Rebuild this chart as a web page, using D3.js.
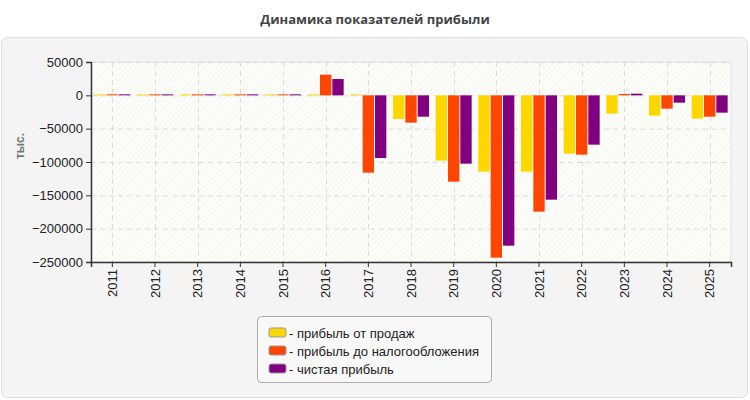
<!DOCTYPE html>
<html>
<head>
<meta charset="utf-8">
<script src="https://cdn.jsdelivr.net/npm/d3@7"></script>
<style>
  body { margin: 0; background: #fff; font-family: "Liberation Sans", Arial, sans-serif; }
</style>
</head>
<body>
<div id="chart"></div>
<script>
// data
const years = ["2011","2012","2013","2014","2015","2016","2017","2018","2019","2020","2021","2022","2023","2024","2025"];
const salesProfit = [1500, 1500, 1500, 1500, 1500, 1500, 1500, -35500, -98000, -114500, -114500, -87500, -27500, -30500, -35000];
const preTaxProfit = [1500, 1500, 1500, 1500, 1500, 31000, -116000, -41000, -129500, -243500, -174500, -89000, 2000, -20000, -32000];
const netProfit = [1500, 1500, 1500, 1500, 1500, 24500, -94000, -32000, -102500, -225500, -156500, -74000, 2500, -11000, -26000];
const seriesNames = ["- прибыль от продаж", "- прибыль до налогообложения", "- чистая прибыль"];
const seriesColors = ["#FFD700", "#FF4500", "#800080"];
const yTicks = [50000, 0, -50000, -100000, -150000, -200000, -250000];

const width = 750, height = 400;
const plot = { left: 91, right: 731, top: 62, bottom: 262 };

const svg = d3.select("#chart").append("svg")
    .attr("width", width)
    .attr("height", height);

// outer panel
svg.append("rect")
   .attr("x", 1.5).attr("y", 37.5)
   .attr("width", 746).attr("height", 360)
   .attr("rx", 6)
   .attr("fill", "#f4f4f4")
   .attr("stroke", "#dcdcdc");

// title
svg.append("text")
   .attr("x", width / 2)
   .attr("y", 24)
   .attr("text-anchor", "middle")
   .attr("font-size", 13)
   .attr("font-family", "'Open Sans', sans-serif")
   .attr("font-weight", "bold")
   .attr("fill", "#444")
   .text("Динамика показателей прибыли");

// hatched plot background
const defs = svg.append("defs");
const pat = defs.append("pattern")
   .attr("id", "hatch")
   .attr("patternUnits", "userSpaceOnUse")
   .attr("width", 4).attr("height", 4)
   .attr("patternTransform", "rotate(45)");
pat.append("rect").attr("width", 4).attr("height", 4).attr("fill", "#fdfdf9");
pat.append("line").attr("x1", 0).attr("y1", 0).attr("x2", 0).attr("y2", 4)
   .attr("stroke", "#ececec").attr("stroke-width", 1);

svg.append("rect")
   .attr("x", plot.left).attr("y", plot.top)
   .attr("width", plot.right - plot.left)
   .attr("height", plot.bottom - plot.top)
   .attr("fill", "url(#hatch)")
   .attr("stroke", "#e2e2e2");

// scales
const x = d3.scaleBand()
    .domain(years)
    .range([plot.left, plot.right]);

const x1 = d3.scaleBand()
    .domain([0, 1, 2])
    .range([0, 36])
    .paddingInner(0.08);

const y = d3.scaleLinear()
    .domain([-250000, 50000])
    .range([plot.bottom, plot.top]);

// grid
svg.append("g").selectAll("line.h")
   .data(yTicks)
   .join("line")
   .attr("x1", plot.left).attr("x2", plot.right)
   .attr("y1", d => y(d) + 0.5).attr("y2", d => y(d) + 0.5)
   .attr("stroke", "#dcdcdc")
   .attr("stroke-dasharray", "5,4");

svg.append("g").selectAll("line.v")
   .data(years)
   .join("line")
   .attr("x1", d => Math.round(x(d) + x.bandwidth() / 2) + 0.5)
   .attr("x2", d => Math.round(x(d) + x.bandwidth() / 2) + 0.5)
   .attr("y1", plot.top).attr("y2", plot.bottom)
   .attr("stroke", "#dcdcdc")
   .attr("stroke-dasharray", "5,4");

// bars
const series = [salesProfit, preTaxProfit, netProfit];
series.forEach((vals, s) => {
    svg.append("g").selectAll("rect")
       .data(years.map((yr, i) => ({ yr, v: vals[i] })))
       .join("rect")
       .attr("x", d => x(d.yr) + x.bandwidth() / 2 - 18 + x1(s))
       .attr("y", d => y(Math.max(0, d.v)))
       .attr("width", x1.bandwidth())
       .attr("height", d => Math.abs(y(d.v) - y(0)))
       .attr("fill", seriesColors[s]);
});

// axes
const yAxis = svg.append("g")
   .attr("transform", `translate(${plot.left},0)`)
   .call(d3.axisLeft(y).tickValues(yTicks).tickFormat(d3.format("d")).tickSizeOuter(0).tickSize(5));
yAxis.selectAll("text").attr("font-size", 13).attr("fill", "#222")
   .attr("font-family", "'Liberation Sans', Arial, sans-serif");
yAxis.select(".domain").attr("stroke", "#333").attr("stroke-width", 1.5);
yAxis.selectAll(".tick line").attr("stroke", "#333");

const xAxis = svg.append("g")
   .attr("transform", `translate(0,${plot.bottom})`)
   .call(d3.axisBottom(x).tickSizeOuter(0).tickSize(5));
xAxis.select(".domain").attr("stroke", "#333").attr("stroke-width", 1.5);
xAxis.selectAll(".tick line").attr("stroke", "#333");
xAxis.selectAll("text")
   .attr("font-size", 13)
   .attr("fill", "#222")
   .attr("font-family", "'Liberation Sans', Arial, sans-serif")
   .attr("transform", "rotate(-90)")
   .attr("text-anchor", "end")
   .attr("x", -7)
   .attr("y", 0)
   .attr("dy", "0.35em");

// y label
svg.append("text")
   .attr("transform", "rotate(-90)")
   .attr("x", -146)
   .attr("y", 24)
   .attr("text-anchor", "middle")
   .attr("font-size", 12)
   .attr("font-weight", "bold")
   .attr("fill", "#777")
   .text("тыс.");

// legend
const lg = svg.append("g");
lg.append("rect")
  .attr("x", 257.5).attr("y", 316.5)
  .attr("width", 234).attr("height", 66)
  .attr("rx", 4)
  .attr("fill", "#f8f8f8")
  .attr("stroke", "#aaa");

seriesNames.forEach((name, i) => {
    const yy = 333 + i * 18;
    lg.append("rect")
      .attr("x", 269).attr("y", yy - 5)
      .attr("width", 17).attr("height", 9)
      .attr("rx", 2)
      .attr("fill", seriesColors[i])
      .attr("stroke", "#999");
    lg.append("text")
      .attr("x", 289).attr("y", yy)
      .attr("dy", "0.35em")
      .attr("font-size", 13)
      .attr("fill", "#222")
      .text(name);
});
</script>
</body>
</html>
